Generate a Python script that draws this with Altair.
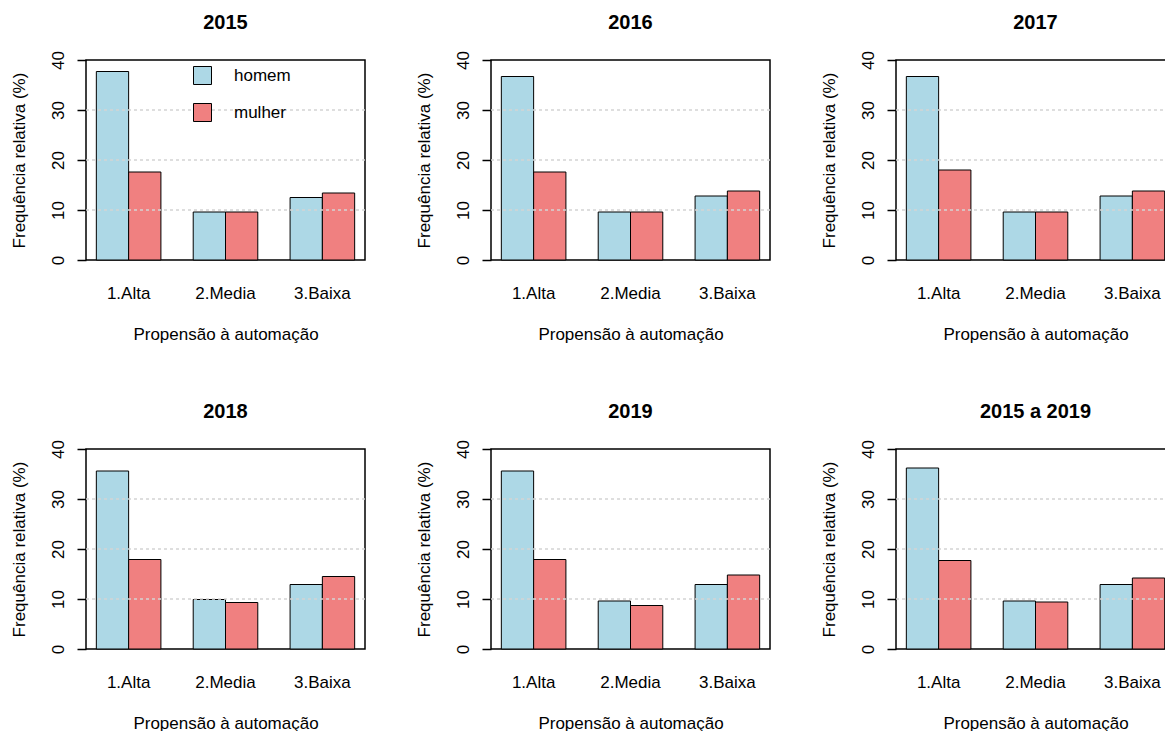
import altair as alt
import pandas as pd

# Categories, groups and panels
categorias = ["1.Alta", "2.Media", "3.Baixa"]
sexos = ["homem", "mulher"]
cores = ["#ADD8E6", "#F08080"]
paineis = ["2015", "2016", "2017", "2018", "2019", "2015 a 2019"]
grade_y = [10, 20, 30]
ticks_y = [0, 10, 20, 30, 40]

# Relative frequency (%) per panel, in the order of `categorias`
homem = {
    "2015": [37.7, 9.6, 12.5],
    "2016": [36.7, 9.6, 12.8],
    "2017": [36.7, 9.6, 12.8],
    "2018": [35.6, 9.9, 12.9],
    "2019": [35.6, 9.6, 12.9],
    "2015 a 2019": [36.2, 9.6, 12.9],
}
mulher = {
    "2015": [17.6, 9.6, 13.4],
    "2016": [17.6, 9.6, 13.8],
    "2017": [18.0, 9.6, 13.8],
    "2018": [17.9, 9.3, 14.5],
    "2019": [17.9, 8.7, 14.8],
    "2015 a 2019": [17.7, 9.4, 14.2],
}

FONTE = "Liberation Sans"
LARG, ALT = 279, 200
TELA_L, TELA_A = 1165, 731
ORIGEM_X, ORIGEM_Y = 86, 60


def eixo_y():
    return alt.Axis(
        values=ticks_y, title="Frequência relativa (%)", grid=False,
        domain=False, tickSize=9, tickWidth=1.5, tickColor="black",
        labelAngle=270, labelAlign="center", labelBaseline="alphabetic",
        labelPadding=14, labelFontSize=17, labelFont=FONTE,
        labelColor="black", titleAngle=270, titleX=-62, titleY=ALT / 2,
        titleAlign="center", titleBaseline="alphabetic",
        titleFontSize=17, titleFont=FONTE, titleFontWeight="normal",
        titleColor="black",
    )


def painel(nome, com_legenda):
    linhas = []
    for i, cat in enumerate(categorias):
        linhas.append({"categoria": cat, "sexo": "homem", "valor": homem[nome][i]})
        linhas.append({"categoria": cat, "sexo": "mulher", "valor": mulher[nome][i]})
    df = pd.DataFrame(linhas)

    escala_y = alt.Scale(domain=[0, 40], nice=False, zero=True)

    if com_legenda:
        legenda = alt.Legend(
            orient="none", legendX=107, legendY=6, title=None,
            symbolType="square", symbolSize=324, symbolStrokeColor="black",
            symbolStrokeWidth=1, labelFontSize=17, labelFont=FONTE,
            labelColor="black", labelOffset=22, rowPadding=14, padding=0,
        )
    else:
        legenda = None

    barras = alt.Chart(df).mark_bar(stroke="black", strokeWidth=1).encode(
        x=alt.X(
            "categoria:N", sort=categorias,
            scale=alt.Scale(paddingInner=1 / 3, paddingOuter=0.1067),
            axis=alt.Axis(
                title="Propensão à automação", labelAngle=0, ticks=False,
                tickSize=0, domain=False, grid=False, labelPadding=38,
                labelBaseline="alphabetic", labelFontSize=17, labelFont=FONTE,
                labelColor="black", titleFontSize=17, titleFont=FONTE,
                titleFontWeight="normal", titleColor="black", titleY=79,
                titleBaseline="alphabetic",
            ),
        ),
        xOffset=alt.XOffset(
            "sexo:N", sort=sexos, scale=alt.Scale(paddingInner=0, paddingOuter=0)
        ),
        y=alt.Y("valor:Q", scale=escala_y, axis=eixo_y()),
        color=alt.Color(
            "sexo:N", scale=alt.Scale(domain=sexos, range=cores), legend=legenda
        ),
    )

    grade = alt.Chart(pd.DataFrame({"g": grade_y})).mark_rule(
        color="#d3d3d3", strokeDash=[3, 3], strokeWidth=1.5
    ).encode(y=alt.Y("g:Q", scale=escala_y, axis=eixo_y()))

    return alt.layer(barras, grade).properties(
        width=LARG, height=ALT,
        title=alt.TitleParams(
            text=nome, fontSize=20, fontWeight="bold", font=FONTE,
            color="black", anchor="middle", frame="group", offset=18,
        ),
    )


graficos = [painel(n, i == 0) for i, n in enumerate(paineis)]

# Fixed canvas: the panel grid starts at the padding origin and anything
# beyond the canvas edge is clipped.
chart = alt.concat(*graficos, columns=3).properties(
    spacing={"row": 189, "column": 126},
    bounds="flush",
    autosize=alt.AutoSizeParams(type="none", contains="content"),
    padding={
        "left": ORIGEM_X, "top": ORIGEM_Y,
        "right": TELA_L - ORIGEM_X, "bottom": TELA_A - ORIGEM_Y,
    },
    background="white",
).resolve_legend(color="independent").configure_view(
    stroke="black", strokeWidth=1.5
)

chart.save("out.html", embed_options={"renderer": "svg", "actions": False})
